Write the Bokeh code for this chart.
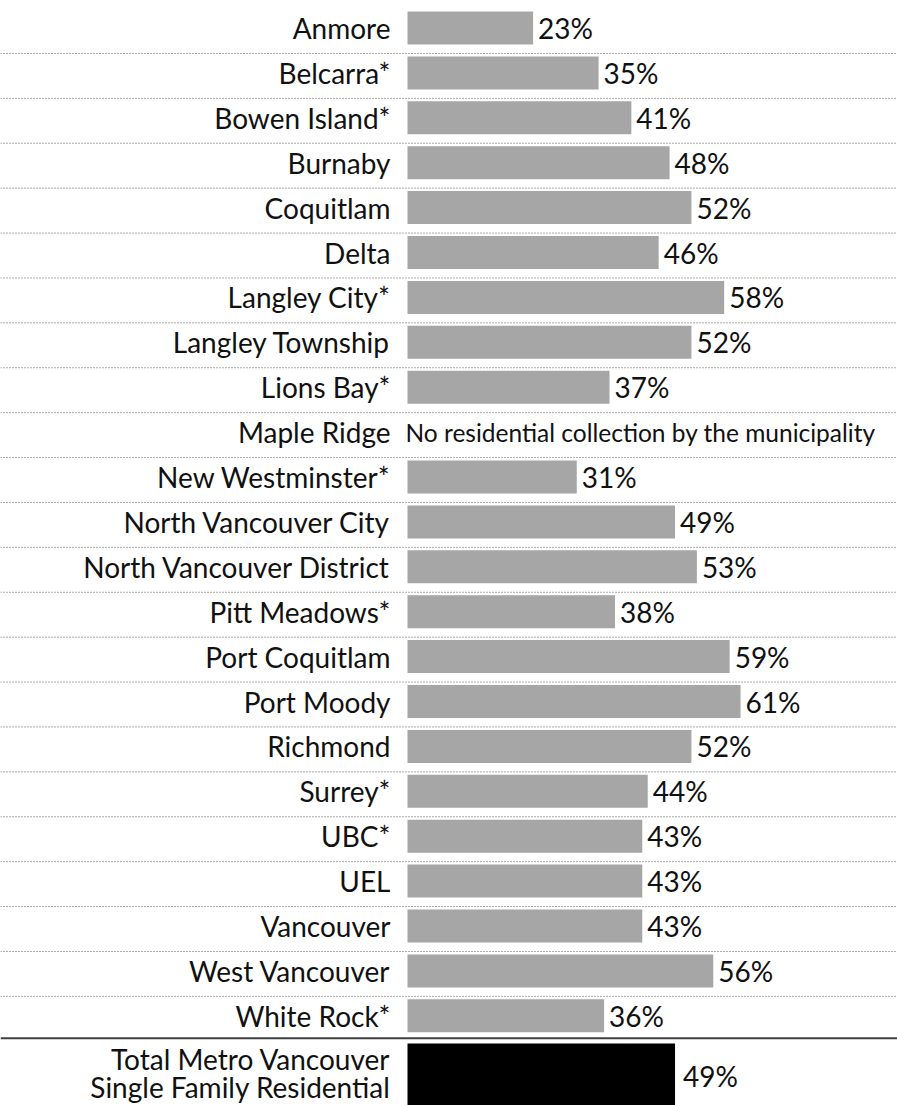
from bokeh.plotting import figure
from bokeh.models import Range1d, Span, ColumnDataSource
from bokeh.core.properties import value
from bokeh.embed import file_html
from bokeh.resources import INLINE

municipalities = [
    "Anmore", "Belcarra*", "Bowen Island*", "Burnaby", "Coquitlam", "Delta",
    "Langley City*", "Langley Township", "Lions Bay*", "Maple Ridge",
    "New Westminster*", "North Vancouver City", "North Vancouver District",
    "Pitt Meadows*", "Port Coquitlam", "Port Moody", "Richmond", "Surrey*",
    "UBC*", "UEL", "Vancouver", "West Vancouver", "White Rock*",
]
percent = [23, 35, 41, 48, 52, 46, 58, 52, 37, None, 31, 49, 53, 38, 59, 61,
           52, 44, 43, 43, 43, 56, 36]
no_data_note = "No residential collection by the municipality"
total_label = ["Total Metro Vancouver", "Single Family Residential"]
total_percent = 49

FONT = value("Lato")
FS = "28px"

W, H = 897, 1105
PX_PER_PCT = 5.46
ZERO_PX = 407
x0 = -ZERO_PX / PX_PER_PCT
x1 = x0 + W / PX_PER_PCT
PITCH = 44.9
top_row = -27.5 / PITCH
bottom_row = top_row + H / PITCH

p = figure(width=W, height=H, output_backend="svg", toolbar_location=None,
           x_range=Range1d(x0, x1), y_range=Range1d(bottom_row, top_row),
           min_border=0, outline_line_color=None)
p.axis.visible = False
p.grid.visible = False
p.background_fill_color = "white"
p.border_fill_color = "white"

rows = list(range(len(municipalities)))
bar_rows = [r for r, v in zip(rows, percent) if v is not None]
bar_vals = [v for v in percent if v is not None]
src = ColumnDataSource(dict(y=bar_rows, v=bar_vals,
                            lbl=[f"{v}%" for v in bar_vals]))

# dotted separators
for r in rows[:-1]:
    p.add_layout(Span(location=r + 0.567, dimension="width",
                      line_color="#555555", line_width=1, line_dash="1 2"))
# solid separator before total
p.add_layout(Span(location=rows[-1] + 0.5, dimension="width",
                  line_color="#404040", line_width=2))

p.hbar(y="y", left=0, right="v", height=0.735, source=src,
       fill_color="#a6a6a6", line_color=None)
p.text(x="v", y="y", text="lbl", source=src, x_offset=5,
       text_align="left", text_baseline="middle", text_font=FONT,
       text_font_size=FS, text_color="#111111")

p.text(x=[0] * len(rows), y=rows, text=municipalities, x_offset=-17,
       text_align="right", text_baseline="middle", text_font=FONT,
       text_font_size=FS, text_color="#111111")

missing = [r for r, v in zip(rows, percent) if v is None]
p.text(x=[0] * len(missing), y=missing, text=[no_data_note] * len(missing),
       x_offset=-2, text_align="left", text_baseline="middle",
       text_font=FONT, text_font_size="24.5px", text_color="#111111")

# total row
total_row = rows[-1] + 0.5 + 0.85
p.hbar(y=[total_row], left=0, right=[total_percent], height=1.47,
       fill_color="black", line_color=None)
p.text(x=[total_percent], y=[total_row], text=[f"{total_percent}%"],
       x_offset=8, text_align="left", text_baseline="middle",
       text_font=FONT, text_font_size=FS, text_color="#111111")
p.text(x=[0], y=[total_row], text=[total_label[0]], x_offset=-17,
       y_offset=-17, text_align="right", text_baseline="middle",
       text_font=FONT, text_font_size=FS, text_color="#111111")
p.text(x=[0], y=[total_row], text=[total_label[1]], x_offset=-17,
       y_offset=11, text_align="right", text_baseline="middle",
       text_font=FONT, text_font_size=FS, text_color="#111111")

open("out.html", "w").write(file_html(p, INLINE))
